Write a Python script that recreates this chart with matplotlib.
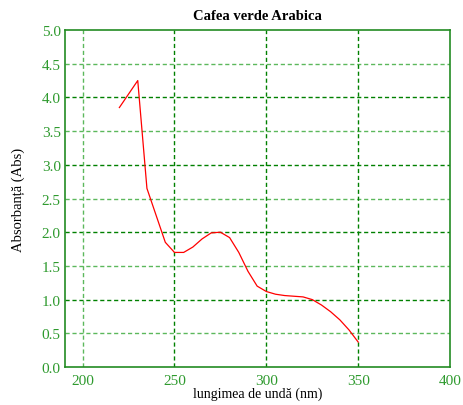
import matplotlib.pyplot as plt

# Spectrum values
wavelength = [220, 230, 235, 240, 245, 250, 255, 260, 265, 270, 275, 280, 285,
              290, 295, 300, 305, 310, 315, 320, 325, 330, 335, 340, 345, 350]
absorbance = [3.85, 4.25, 2.65, 2.25, 1.85, 1.70, 1.70, 1.78, 1.90, 1.99, 2.00,
              1.92, 1.70, 1.42, 1.20, 1.12, 1.08, 1.06, 1.05, 1.04, 1.00, 0.92,
              0.82, 0.70, 0.55, 0.37]
xticks = [200, 250, 300, 350, 400]
yticks = [0.0, 0.5, 1.0, 1.5, 2.0, 2.5, 3.0, 3.5, 4.0, 4.5, 5.0]

plt.rcParams['font.family'] = ['Liberation Serif', 'DejaVu Serif']

fig = plt.figure(figsize=(4.63, 4.06), dpi=100)
ax = fig.add_axes([0.1404, 0.0936, 0.8316, 0.83])

dark = '#008000'
light = '#5cb85c'

# Grid lines
for y in yticks[1:-1]:
    col = dark if y == int(y) else light
    ax.axhline(y, color=col, linestyle=(0, (3, 2)), linewidth=1.0, zorder=1)
for x in xticks[:-1]:
    col = light if x == 200 else dark
    ax.axvline(x, color=col, linestyle=(0, (3, 2)), linewidth=1.0, zorder=1)

ax.plot(wavelength, absorbance, color='red', linewidth=0.9, zorder=3)

ax.set_xlim(190.4, 400)
ax.set_ylim(0, 5.0)
ax.set_xticks(xticks)
ax.set_yticks(yticks)
ax.set_yticklabels(['%.1f' % v for v in yticks])
ax.tick_params(colors='#2e9a2e', labelsize=11, length=0)
ax.tick_params(axis='x', pad=5)
ax.tick_params(axis='y', pad=3)
for s in ax.spines.values():
    s.set_color('#228b22')
    s.set_linewidth(1.2)

ax.set_title('Cafea verde Arabica', fontsize=10.5, fontweight='bold', pad=8)
ax.set_xlabel('lungimea de undă (nm)', fontsize=10, labelpad=0)
ax.set_ylabel('Absorbanță (Abs)', fontsize=10.5, labelpad=12)

fig.savefig('out.png', dpi=100)
